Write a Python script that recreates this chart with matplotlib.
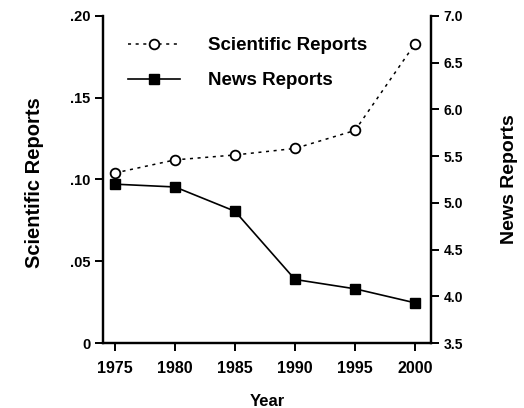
import matplotlib.pyplot as plt

plt.rcParams['font.family'] = ['Liberation Sans', 'DejaVu Sans']
plt.rcParams['font.weight'] = 'bold'

years = [1975, 1980, 1985, 1990, 1995, 2000]
scientific = [0.104, 0.112, 0.115, 0.119, 0.130, 0.183]
news = [5.20, 5.17, 4.91, 4.18, 4.08, 3.93]
left_ticks = [0, 0.05, 0.10, 0.15, 0.20]
left_labels = ['0', '.05', '.10', '.15', '.20']
right_ticks = [3.5, 4.0, 4.5, 5.0, 5.5, 6.0, 6.5, 7.0]

fig = plt.figure(figsize=(5.24, 4.08), dpi=100)
ax = fig.add_axes([0.1966, 0.1593, 0.6259, 0.8015])
ax2 = ax.twinx()

l1, = ax.plot(years, scientific, color='black', linestyle=(0, (2, 3)), lw=1.1,
              marker='o', markersize=7, markerfacecolor='white', markeredgecolor='black',
              markeredgewidth=1.3, label='Scientific Reports')
l2, = ax2.plot(years, news, color='black', lw=1.2, marker='s', markersize=7,
               label='News Reports')

ax.set_xlim(1974, 2001.33)
ax.set_ylim(0, 0.20)
ax2.set_ylim(3.5, 7.0)

ax.set_xticks(years)
ax.set_yticks(left_ticks)
ax.set_yticklabels(left_labels)
ax2.set_yticks(right_ticks)

for a in (ax, ax2):
    a.spines['top'].set_visible(False)
    a.spines['left'].set_linewidth(1.6)
    a.spines['right'].set_linewidth(1.6)
    a.spines['bottom'].set_linewidth(1.6)
    a.tick_params(direction='out', length=6, width=1.4)
ax.tick_params(axis='x', labelsize=11.5, pad=7)
ax.tick_params(axis='y', labelsize=10.5, pad=3)
ax2.tick_params(axis='y', labelsize=10, pad=3)

ax.set_ylabel('Scientific Reports', fontsize=14.5, fontweight='bold')
ax.yaxis.set_label_coords(-0.18, 0.49)
ax2.set_ylabel('News Reports', fontsize=14, fontweight='bold', rotation=90)
ax2.yaxis.set_label_coords(1.213, 0.5)
ax.set_xlabel('Year', fontsize=12, fontweight='bold')
ax.xaxis.set_label_coords(0.5, -0.155)

ax.legend(handles=[l1, l2], loc='upper left', bbox_to_anchor=(0.076, 0.935),
          frameon=False, fontsize=13.5, handlelength=2.8, labelspacing=0.95,
          handletextpad=1.45, borderaxespad=0, borderpad=0)

plt.savefig('out.png', dpi=100)
